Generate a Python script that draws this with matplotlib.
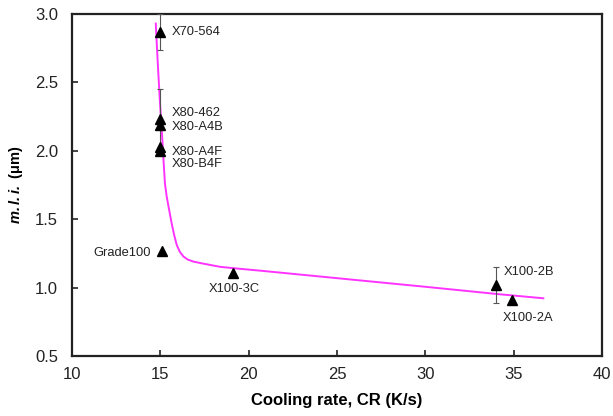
import matplotlib
matplotlib.use('Agg')
import matplotlib.pyplot as plt

plt.rcParams['font.family'] = ['Liberation Sans', 'DejaVu Sans']
plt.rcParams['mathtext.fontset'] = 'custom'
plt.rcParams['mathtext.rm'] = 'Liberation Sans'
plt.rcParams['mathtext.bf'] = 'Liberation Sans:bold'
plt.rcParams['mathtext.bfit'] = 'Liberation Sans:bold:italic'

# Aceros medidos: velocidad de enfriamiento y m.l.i.
aceros = ['X70-564', 'X80-462', 'X80-A4B', 'X80-A4F', 'X80-B4F',
          'Grade100', 'X100-3C', 'X100-2B', 'X100-2A']
cr = [15.0, 15.0, 15.0, 15.0, 15.0, 15.1, 19.1, 34.0, 34.9]
mli = [2.87, 2.23, 2.19, 2.03, 2.00, 1.27, 1.11, 1.02, 0.91]
error = [0.13, 0.22, 0, 0, 0, 0, 0, 0.13, 0]

# Curva de ajuste
curva_cr = [14.74, 14.85, 14.97, 15.08, 15.18, 15.26, 15.36, 15.48, 15.64,
            15.78, 15.93, 16.10, 16.30, 16.55, 16.87, 17.40, 18.38, 19.13,
            20.64, 25.0, 30.0, 34.23, 36.68]
curva_mli = [2.93, 2.65, 2.37, 2.15, 1.93, 1.76, 1.665, 1.58, 1.47,
             1.385, 1.311, 1.262, 1.228, 1.205, 1.19, 1.176, 1.152, 1.142,
             1.124, 1.069, 1.006, 0.951, 0.922]

# Desplazamiento de cada etiqueta (puntos) y alineacion
desplaz = [(8, 0), (8, 4.5), (8, -1.7), (8, -3.6), (8, -9.7),
           (-8.4, -1.4), (1, -11.7), (5.8, 9.6), (-6.5, -13)]
alin = ['left', 'left', 'left', 'left', 'left', 'right', 'center', 'left', 'left']

fig = plt.figure(figsize=(6.13, 4.16), dpi=100)
ax = fig.add_axes([0.1175, 0.1442, 0.8645, 0.8222])

ax.plot(curva_cr, curva_mli, color='#ff33ff', lw=1.4, zorder=2)

for x, y, e in zip(cr, mli, error):
    if e > 0:
        ax.errorbar(x, y, yerr=e, fmt='none', ecolor='#555555', elinewidth=0.8,
                    capsize=2, capthick=0.8, zorder=3)
ax.plot(cr, mli, '^', color='black', markersize=6.5, zorder=4)

for nombre, x, y, d, ha in zip(aceros, cr, mli, desplaz, alin):
    ax.annotate(nombre, (x, y), xytext=d, textcoords='offset points',
                ha=ha, va='center', fontsize=9.3, color='#222222')

ax.set_xlim(10, 40)
ax.set_ylim(0.5, 3.0)
ax.set_xticks([10, 15, 20, 25, 30, 35, 40])
ax.set_yticks([0.5, 1.0, 1.5, 2.0, 2.5, 3.0])
ax.set_yticklabels(['0.5', '1.0', '1.5', '2.0', '2.5', '3.0'])
ax.tick_params(direction='in', length=4, width=1.2, labelsize=12,
               colors='#222222')
ax.tick_params(axis='x', pad=8)
ax.tick_params(axis='y', pad=10)
for s in ax.spines.values():
    s.set_linewidth(1.6)
    s.set_color('#222222')

ax.set_xlabel('Cooling rate, CR (K/s)', fontsize=12, fontweight='bold', labelpad=8)
ax.set_ylabel(r'$\mathbfit{m.l.i.}$ (μm)', fontsize=10.5, fontweight='bold', labelpad=7)

fig.savefig('out.png', dpi=100)
